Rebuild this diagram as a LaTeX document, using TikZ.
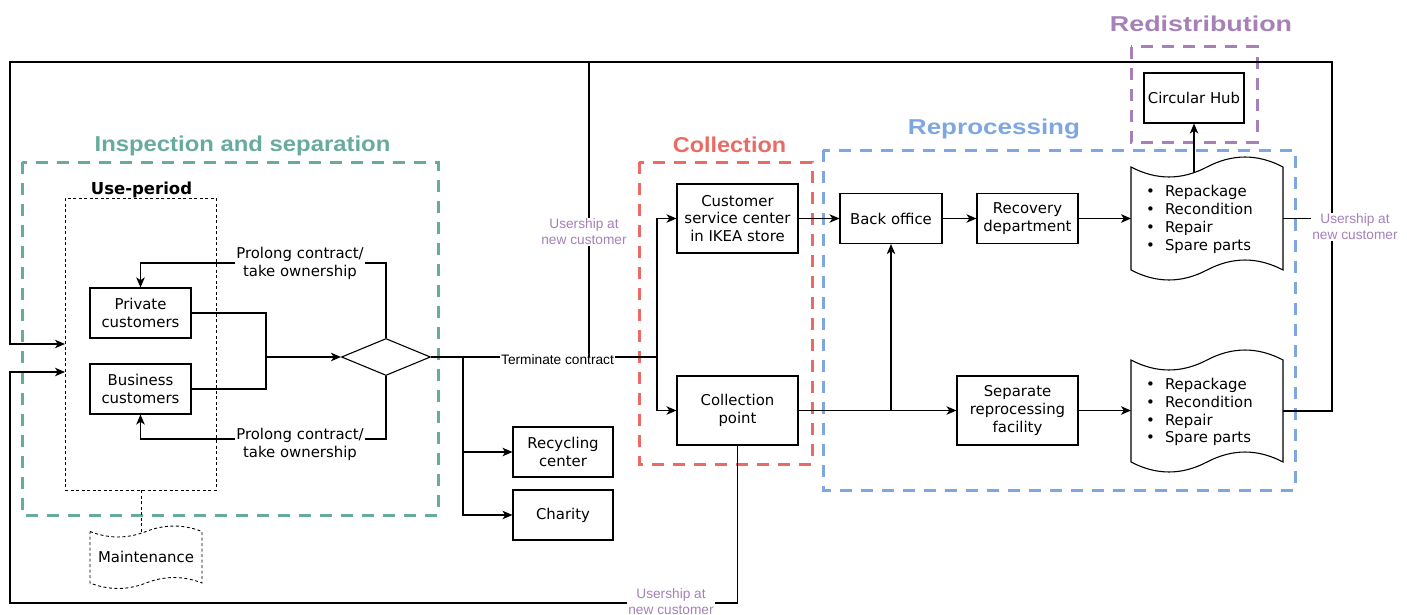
\documentclass[tikz,border=0pt]{standalone}
\usepackage{fontspec}
\setmainfont{DejaVu Sans}
\newfontfamily\helv{Liberation Sans}
\usetikzlibrary{arrows.meta,shapes.geometric}

\definecolor{grpgreen}{HTML}{67AB9F}
\definecolor{grpred}{HTML}{EA6B66}
\definecolor{grpblue}{HTML}{7EA6E0}
\definecolor{grppurple}{HTML}{A680B8}

\newcommand\bodyfont{\fontsize{14.9}{17.8}\selectfont}

% tape shape: left, top, right, bottom, wave control offset, draw options
\newcommand\tapeshape[6]{%
  \draw[#6] (#1,#2)
    .. controls ({#1+(#3-#1)/6},{#2+#5}) and ({(#1+#3)/2-(#3-#1)/6},{#2+#5}) .. ({(#1+#3)/2},#2)
    .. controls ({(#1+#3)/2+(#3-#1)/6},{#2-#5}) and ({#3-(#3-#1)/6},{#2-#5}) .. (#3,#2)
    -- (#3,#4)
    .. controls ({#3-(#3-#1)/6},{#4-#5}) and ({(#1+#3)/2+(#3-#1)/6},{#4-#5}) .. ({(#1+#3)/2},#4)
    .. controls ({(#1+#3)/2-(#3-#1)/6},{#4+#5}) and ({#1+(#3-#1)/6},{#4+#5}) .. (#1,#4) -- cycle;}

\newcommand\bul[1]{\makebox[19pt][l]{\textbullet}#1}

\tikzset{
  box/.style={draw, line width=1.1pt, fill=white, align=center, inner sep=1pt, font=\bodyfont},
  conn/.style={line width=1.1pt},
  arr/.style={conn, -{Stealth[length=10pt,width=8.5pt,inset=2.8pt]}},
  grp/.style={line width=3pt, dash pattern=on 12pt off 9pt},
  ttl/.style={font=\helv\bfseries\fontsize{21.5}{24}\selectfont, anchor=base, inner sep=0},
  usr/.style={font=\helv\fontsize{13.7}{16}\selectfont, text=grppurple, fill=white, align=center, inner sep=1pt},
  lbl/.style={font=\bodyfont, fill=white, align=center, inner sep=1pt},
  holder/.style={inner sep=0, outer sep=0},
}

\begin{document}
\begin{tikzpicture}[x=1pt, y=-1pt]
\useasboundingbox (0,0) rectangle (1407,615);

% phase frames
\draw[grp, grpgreen]  (22,162) rectangle (438,515);
\draw[grp, grpred]    (639,162) rectangle (812,464);
\draw[grp, grpblue]   (823,150) rectangle (1295,490);
\draw[grp, grppurple] (1131,47) rectangle (1257,142);

\node[ttl, text=grpgreen]  (tinsp) at (242.5,151) {\scalebox{1.11}[1]{Inspection and separation}};
\node[ttl, text=grpred]    (tcoll) at (729.5,152) {\scalebox{1.09}[1]{Collection}};
\node[ttl, text=grpblue]   (trep)  at (994,135)   {\scalebox{1.21}[1]{Reprocessing}};
\node[ttl, text=grppurple] (tred)  at (1201,32)   {\scalebox{1.25}[1]{Redistribution}};

% use period frame
\node[draw, line width=0.9pt, dash pattern=on 3pt off 2.5pt, minimum width=151, minimum height=292, inner sep=0] (use) at (140.5,344) {};
\node[font=\bfseries\fontsize{16.5}{19}\selectfont, anchor=base, inner sep=0] (usettl) at (141.5,194) {Use-period};

% maintenance
\tapeshape{90}{531.5}{202}{583}{7.3}{line width=0.9pt, dash pattern=on 3pt off 2.5pt}
\node[holder, font=\bodyfont] (maint) at (146,557) {Maintenance};
\coordinate (mainttop) at (141.5,533);
\draw[line width=0.9pt, dash pattern=on 3pt off 2.5pt] (use.south -| mainttop) -- (mainttop);

% customers
\node[box, minimum width=101, minimum height=50] (priv) at (140.5,313) {Private\\customers};
\node[box, minimum width=101, minimum height=50] (bus)  at (140.5,389) {Business\\customers};
\node[draw, diamond, line width=1.1pt, fill=white, minimum width=89, minimum height=37, inner sep=0] (dia) at (386,357) {};

% end of use
\node[box, minimum width=100, minimum height=50] (recyc) at (563,452) {Recycling\\center};
\node[box, minimum width=100, minimum height=50] (char)  at (563,515) {Charity};

% collection
\node[box, minimum width=121, minimum height=69] (cs)    at (737.5,218.5) {Customer\\service center\\in IKEA store};
\node[box, minimum width=121, minimum height=69] (colpt) at (737.5,410.5) {Collection\\point};

% reprocessing
\node[box, minimum width=102, minimum height=50] (bo)  at (891,218.5) {Back office};
\node[box, minimum width=101, minimum height=50] (rec) at (1027.5,218.5) {Recovery\\department};
\node[box, minimum width=121, minimum height=69] (sep) at (1017.5,410.5) {Separate\\reprocessing\\facility};

\tapeshape{1131}{167}{1283}{270}{13.3}{line width=1.1pt, fill=white}
\node[holder, minimum width=152, minimum height=103] (doc1) at (1207,218.5) {};
\node[holder, font=\bodyfont, align=left, anchor=west] (doc1txt) at (1146,219.5)
  {\bul{Repackage}\\\bul{Recondition}\\\bul{Repair}\\\bul{Spare parts}};

\tapeshape{1131}{360}{1283}{462}{13.3}{line width=1.1pt, fill=white}
\node[holder, minimum width=152, minimum height=102] (doc2) at (1207,411) {};
\node[holder, font=\bodyfont, align=left, anchor=west] (doc2txt) at (1146,412)
  {\bul{Repackage}\\\bul{Recondition}\\\bul{Repair}\\\bul{Spare parts}};

% redistribution
\node[box, minimum width=100, minimum height=50] (hub) at (1194,98) {Circular Hub};

% junction points
\coordinate (jmerge) at (266,357);
\coordinate (jend)   at (463,357);
\coordinate (jcoll)  at (657,357);
\coordinate (jup)    at (589,357);
\coordinate (jbo)    at (891,410.5);
\coordinate (topL)   at (10,62);
\coordinate (topM)   at (589,62);
\coordinate (topR)   at (1332,62);
\coordinate (botL)   at (10,603);
\coordinate (doc1top) at (1194,172.5);
\coordinate (inA)    at (65,344);
\coordinate (inB)    at (65,372);

% customers to decision
\draw[conn] (priv.east) -| (jmerge);
\draw[conn] (bus.east) -| (jmerge);
\draw[arr] (jmerge) -- (dia.west);

% prolong contract loops
\draw[arr] (dia.north) |- (263,263) -| (priv.north);
\node[lbl] (prolA) at (300,263) {Prolong contract/\\take ownership};
\draw[arr] (dia.south) |- (263,439) -| (bus.south);
\node[lbl] (prolB) at (300,444) {Prolong contract/\\take ownership};

% terminate contract
\draw[conn] (dia.east) -- (jcoll);
\draw[arr] (jend) |- (recyc.west);
\draw[arr] (jend) |- (char.west);
\draw[arr] (jcoll) |- (cs.west);
\draw[arr] (jcoll) |- (colpt.west);
\node[font=\helv\fontsize{13.7}{16}\selectfont, fill=white, inner sep=1pt] (term) at (557.5,359.5) {Terminate contract};

% collection to reprocessing
\draw[arr] (cs.east) -- (bo.west);
\draw[arr] (bo.east) -- (rec.west);
\draw[arr] (rec.east) -- (rec.east -| doc1.west);
\draw[conn] (colpt.east) -- (jbo);
\draw[arr] (jbo) -- (bo.south);
\draw[arr] (jbo) -- (sep.west);
\draw[arr] (sep.east) -- (sep.east -| doc2.west);
\draw[arr] (doc1top) -- (hub.south);

% return loops to the use period
\draw[arr] (doc2.east) -| (topR) -- (topL) -- (topL |- inA) -- (inA);
\draw[conn] (doc1.east) -- (doc1.east -| topR);
\draw[conn] (topM) -- (jup);
\draw[arr] (colpt.south) |- (botL) -- (botL |- inB) -- (inB);

% usership labels
\node[usr] (usrA) at (584,232) {Usership at\\new customer};
\node[usr] (usrB) at (1355,227) {Usership at\\new customer};
\node[usr] (usrC) at (671,602) {Usership at\\new customer};
\end{tikzpicture}
\end{document}
